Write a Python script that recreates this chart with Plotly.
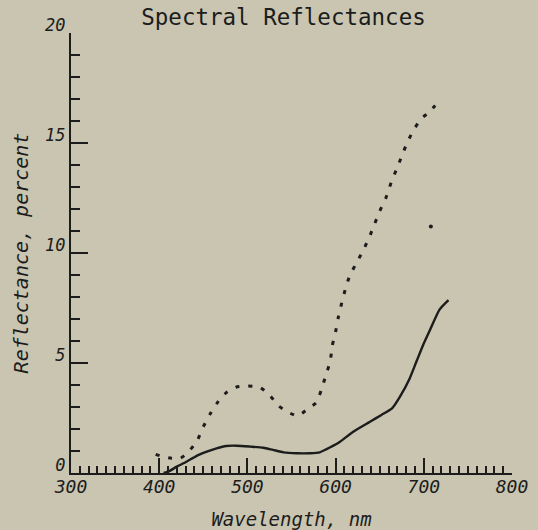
import plotly.graph_objects as go

# ---- data ----
dotted_nm = [396, 404, 414, 424, 434, 443, 450, 458, 466, 476, 487, 500, 514, 526, 535, 546, 557,
             568, 578, 584, 589, 594, 596, 600, 603, 607, 611, 616, 623, 631, 638, 644, 650,
             657, 663, 669, 675, 681, 688, 697, 706, 716]
dotted_val = [0.85, 0.74, 0.67, 0.67, 1.0, 1.47, 2.1, 2.7, 3.2, 3.65, 3.9, 3.95, 3.9, 3.5, 3.06, 2.77, 2.6,
              2.9, 3.2, 3.8, 4.45, 5.09, 5.74, 6.42, 7.06, 7.74, 8.35, 8.97, 9.5, 10.1, 10.7, 11.3, 11.9,
              12.5, 13.2, 13.8, 14.4, 15.0, 15.56, 16.1, 16.4, 16.85]

solid_nm = [405, 412, 420, 431, 442, 454, 465, 476, 488, 503, 518, 529, 541, 556, 571, 582, 594,
            605, 620, 639, 652, 664, 673, 684, 692, 699, 707, 718, 728]
solid_val = [0.0, 0.1, 0.29, 0.51, 0.77, 0.97, 1.12, 1.23, 1.24, 1.2, 1.15, 1.05, 0.94, 0.9, 0.9, 0.94, 1.17,
             1.42, 1.88, 2.33, 2.64, 2.94, 3.47, 4.3, 5.1, 5.8, 6.5, 7.44, 7.86]

stray_nm = [708]
stray_val = [11.2]

x_ticks = [300, 400, 500, 600, 700, 800]
y_ticks = [0, 5, 10, 15, 20]

INK = "#1c1c1c"
PAPER = "#c9c5b1"
FONT = "DejaVu Sans Mono"

fig = go.Figure()
fig.add_trace(go.Scatter(x=dotted_nm, y=dotted_val, mode="lines",
                         line=dict(color=INK, width=3, dash="4px,9px", shape="spline", smoothing=0.6),
                         showlegend=False, hoverinfo="skip"))
fig.add_trace(go.Scatter(x=solid_nm, y=solid_val, mode="lines",
                         line=dict(color=INK, width=2.4, shape="spline", smoothing=0.6),
                         showlegend=False, hoverinfo="skip"))
fig.add_trace(go.Scatter(x=stray_nm, y=stray_val, mode="markers", marker=dict(color=INK, size=4, symbol="circle"),
                         showlegend=False, hoverinfo="skip"))

fig.update_layout(
    width=538, height=530,
    margin=dict(l=71, r=26, t=33, b=57),
    paper_bgcolor=PAPER, plot_bgcolor=PAPER,
    title=dict(text="Spectral Reflectances", x=283.5 / 538, xref="container", xanchor="center",
               y=1 - 17 / 530, yref="container", yanchor="middle",
               font=dict(family=FONT, size=22.5, color=INK)),
    xaxis=dict(range=[300, 800], tickvals=x_ticks, ticktext=[str(v) for v in x_ticks],
               automargin=False,
               showgrid=False, zeroline=False, showline=True, linecolor=INK, linewidth=2,
               ticks="inside", ticklen=15, tickwidth=2, tickcolor=INK,
               minor=dict(dtick=10, ticks="inside", ticklen=7, tickwidth=1.6, tickcolor=INK, showgrid=False),
               tickfont=dict(family=FONT, size=18, color=INK, style="italic"),
               ticklabelstandoff=-4,
               title=dict(text="Wavelength, nm", font=dict(family=FONT, size=19, color=INK, style="italic"), standoff=20)),
    yaxis=dict(range=[0, 20], tickvals=y_ticks, ticktext=[str(v) for v in y_ticks],
               automargin=False,
               showgrid=False, zeroline=False, showline=True, linecolor=INK, linewidth=2,
               ticks="inside", ticklen=17, tickwidth=2, tickcolor=INK,
               minor=dict(dtick=1, ticks="inside", ticklen=9, tickwidth=1.6, tickcolor=INK, showgrid=False),
               tickfont=dict(family=FONT, size=17, color=INK, style="italic"),
               ticklabelshift=-8, ticklabelstandoff=0,
               title=dict(text="Reflectance, percent", font=dict(family=FONT, size=20, color=INK, style="italic"), standoff=11)),
)

fig.write_html("out.html")
